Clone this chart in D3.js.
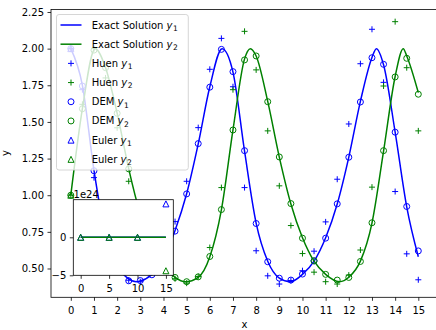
<!DOCTYPE html>
<html>
<head>
<meta charset="utf-8">
<script src="https://cdn.jsdelivr.net/npm/d3@7"></script>
<style>
  body { margin: 0; background: #fff; }
  text { font-family: "DejaVu Sans", sans-serif; font-size: 10px; fill: #000; }
</style>
</head>
<body>
<svg id="chart" width="436" height="330"></svg>
<script>
// exact solution (extra points at the peaks / troughs)
const exactT1 = [0, 0.5, 1, 1.5, 2, 2.5, 2.82, 3, 3.5, 4, 4.5, 5, 5.5, 6, 6.53, 7, 7.5, 8, 8.5, 9, 9.48, 10, 10.5, 11, 11.5, 12, 12.5, 13, 13.19, 13.5, 14, 14.5, 15];
const exactY1 = [2.0, 1.75, 1.17, 0.73, 0.52, 0.43, 0.41, 0.415, 0.46, 0.57, 0.76, 1.01, 1.35, 1.74, 2.0, 1.84, 1.30, 0.81, 0.55, 0.435, 0.41, 0.46, 0.55, 0.71, 0.94, 1.26, 1.64, 1.94, 2.0, 1.89, 1.43, 0.92, 0.58];
const exactT2 = [0, 0.5, 1.05, 1.5, 2, 2.5, 3, 3.5, 4, 4.5, 4.95, 5.5, 6, 6.5, 7, 7.5, 7.75, 8, 8.5, 9, 9.5, 10, 10.5, 11, 11.6, 12, 12.5, 13, 13.5, 14, 14.35, 14.5, 15];
const exactY2 = [1.0, 1.59, 2.0, 1.87, 1.56, 1.18, 0.87, 0.65, 0.52, 0.44, 0.41, 0.44, 0.58, 0.90, 1.445, 1.93, 2.0, 1.95, 1.64, 1.26, 0.94, 0.71, 0.55, 0.46, 0.41, 0.44, 0.55, 0.81, 1.30, 1.81, 2.0, 1.95, 1.70];

// step 0.5 methods
const stepT = d3.range(0, 15.01, 0.5);
const huenY1 = [2.0, 1.72, 1.12, 0.68, 0.49, 0.42, 0.41, 0.47, 0.6, 0.82, 1.095, 1.461, 1.859, 2.07, 1.74, 1.052, 0.621, 0.45, 0.394, 0.418, 0.485, 0.618, 0.818, 1.109, 1.486, 1.897, 2.132, 1.77, 1.025, 0.6, 0.423];
const huenY2 = [1.0, 1.62, 2.0, 1.8, 1.46, 1.095, 0.8, 0.6, 0.49, 0.43, 0.40, 0.445, 0.643, 1.052, 1.72, 2.118, 1.855, 1.439, 1.064, 0.793, 0.602, 0.475, 0.41, 0.394, 0.455, 0.626, 1.055, 1.745, 2.184, 1.87, 1.439];
const demY1 = [2.0, 1.745, 1.167, 0.72, 0.51, 0.416, 0.418, 0.457, 0.56, 0.755, 1.009, 1.352, 1.737, 1.995, 1.843, 1.304, 0.807, 0.546, 0.434, 0.421, 0.462, 0.552, 0.707, 0.941, 1.259, 1.636, 1.938, 1.893, 1.43, 0.923, 0.62];
const demY2 = [1.0, 1.59, 1.99, 1.87, 1.559, 1.18, 0.87, 0.65, 0.52, 0.439, 0.41, 0.443, 0.582, 0.902, 1.445, 1.923, 1.95, 1.638, 1.261, 0.943, 0.707, 0.552, 0.46, 0.421, 0.439, 0.548, 0.812, 1.304, 1.807, 1.934, 1.689];

// Euler with step 5 blows up
const eulerT = [0, 5, 10, 15];
const eulerY1 = [2.0, -3.0, 1.2e3, 4.4e24];
const eulerY2 = [1.0, 6.0, -9.6e2, -4.4e24];

const xTicks = d3.range(0, 16);
const yTicks = [0.5, 0.75, 1.0, 1.25, 1.5, 1.75, 2.0, 2.25];
const insetXTicks = [0, 5, 10, 15];
const insetYTicks = [-5e24, 0];

const legendLabels = [
  ['Exact Solution ', '1'], ['Exact Solution ', '2'],
  ['Huen ', '1'], ['Huen ', '2'],
  ['DEM ', '1'], ['DEM ', '2'],
  ['Euler ', '1'], ['Euler ', '2']
];

const BLUE = '#0000ff', GREEN = '#008000';

const svg = d3.select('#chart');

const x = d3.scaleLinear().domain([-0.855, 15.85]).range([51, 438]);
const y = d3.scaleLinear().domain([0.3035, 2.267]).range([297.3, 9.5]);

svg.append('clipPath').attr('id', 'clipMain')
  .append('rect').attr('x', 51).attr('y', 9.5).attr('width', 387).attr('height', 287.8);

// marker shapes
const shapes = {
  plus: 'M-3,0H3M0,-3V3',
  circle: 'M3,0A3,3 0 1,1 -3,0A3,3 0 1,1 3,0Z',
  tri: 'M0,-3L-3,3L3,3Z'
};

function drawMarkers(g, xs, ys, xsc, ysc, shape, color) {
  g.append('g').selectAll('path')
    .data(xs.map((t, i) => [t, ys[i]]))
    .join('path')
    .attr('transform', d => `translate(${xsc(d[0])},${ysc(d[1])})`)
    .attr('d', shapes[shape])
    .attr('fill', 'none')
    .attr('stroke', color)
    .attr('stroke-width', 1);
}

function drawLine(g, ts, vs, xsc, ysc, color) {
  const line = d3.line()
    .x(d => xsc(d[0]))
    .y(d => ysc(d[1]))
    .curve(d3.curveMonotoneX);
  g.append('path')
    .datum(ts.map((t, i) => [t, vs[i]]))
    .attr('d', line)
    .attr('fill', 'none')
    .attr('stroke', color)
    .attr('stroke-width', 1.5);
}

// main plot
const plot = svg.append('g').attr('clip-path', 'url(#clipMain)');
drawLine(plot, exactT1, exactY1, x, y, BLUE);
drawLine(plot, exactT2, exactY2, x, y, GREEN);
drawMarkers(plot, stepT, huenY1, x, y, 'plus', BLUE);
drawMarkers(plot, stepT, huenY2, x, y, 'plus', GREEN);
drawMarkers(plot, stepT, demY1, x, y, 'circle', BLUE);
drawMarkers(plot, stepT, demY2, x, y, 'circle', GREEN);
drawMarkers(plot, eulerT, eulerY1, x, y, 'tri', BLUE);
drawMarkers(plot, eulerT, eulerY2, x, y, 'tri', GREEN);

// axes
const xAxis = svg.append('g')
  .attr('transform', 'translate(0,297.3)')
  .call(d3.axisBottom(x).tickValues(xTicks).tickSize(3.5).tickSizeOuter(0).tickFormat(d3.format('d')));
xAxis.selectAll('text').attr('y', 16.6).attr('dy', 0);

const yAxis = svg.append('g')
  .attr('transform', 'translate(51,0)')
  .call(d3.axisLeft(y).tickValues(yTicks).tickSize(3.5).tickSizeOuter(0).tickPadding(3.5).tickFormat(d3.format('.2f')));

svg.selectAll('.domain').remove();
svg.selectAll('.tick line').attr('stroke', '#000').attr('stroke-width', 0.8);
svg.selectAll('.tick text').attr('font-size', 10).attr('font-family', 'DejaVu Sans').attr('fill', '#000');

svg.append('rect')
  .attr('x', 51).attr('y', 9.5).attr('width', 387).attr('height', 287.8)
  .attr('fill', 'none').attr('stroke', '#000').attr('stroke-width', 0.8);

svg.append('text').attr('x', 244.5).attr('y', 328).attr('text-anchor', 'middle').text('x');
svg.append('text').attr('transform', 'translate(9,153) rotate(-90)').attr('text-anchor', 'middle').text('y');

// legend
const legend = svg.append('g');
legend.append('rect')
  .attr('x', 56.5).attr('y', 14.5).attr('width', 131.8).attr('height', 155.5)
  .attr('rx', 2.5)
  .attr('fill', '#fff').attr('fill-opacity', 0.8)
  .attr('stroke', '#cccccc').attr('stroke-width', 0.8);

const handles = [
  ['line', BLUE], ['line', GREEN],
  ['plus', BLUE], ['plus', GREEN],
  ['circle', BLUE], ['circle', GREEN],
  ['tri', BLUE], ['tri', GREEN]
];
legendLabels.forEach((lab, i) => {
  const cy = 25 + i * 19.19;
  const [kind, color] = handles[i];
  if (kind === 'line') {
    legend.append('line').attr('x1', 60.5).attr('x2', 81.5).attr('y1', cy).attr('y2', cy)
      .attr('stroke', color).attr('stroke-width', 1.5);
  } else {
    legend.append('path').attr('transform', `translate(71,${cy})`).attr('d', shapes[kind])
      .attr('fill', 'none').attr('stroke', color).attr('stroke-width', 1);
  }
  const t = legend.append('text').attr('x', 91.7).attr('y', cy + 3.5).attr('font-size', 10.6);
  t.append('tspan').text(lab[0]);
  t.append('tspan').attr('font-style', 'italic').text('y');
  t.append('tspan').attr('font-size', 7.6).attr('dx', 0.6).attr('dy', 2.3).text(lab[1]);
});

// inset
const xi = d3.scaleLinear().domain([-1.3, 16.3]).range([73.3, 173.3]);
const yi = d3.scaleLinear().domain([-5e24, 4.95e24]).range([275.3, 199.7]);

svg.append('clipPath').attr('id', 'clipInset')
  .append('rect').attr('x', 73.3).attr('y', 199.7).attr('width', 100).attr('height', 75.6);

svg.append('rect').attr('x', 73.3).attr('y', 199.7).attr('width', 100).attr('height', 75.6)
  .attr('fill', '#fff');

const inset = svg.append('g').attr('clip-path', 'url(#clipInset)');
drawLine(inset, exactT1, exactY1, xi, yi, BLUE);
drawLine(inset, exactT2, exactY2, xi, yi, GREEN);
drawMarkers(inset, eulerT, eulerY1, xi, yi, 'tri', BLUE);
drawMarkers(inset, eulerT, eulerY2, xi, yi, 'tri', GREEN);

const ixAxis = svg.append('g').attr('class', 'inset-axis')
  .attr('transform', 'translate(0,275.3)')
  .call(d3.axisBottom(xi).tickValues(insetXTicks).tickSize(3.5).tickSizeOuter(0).tickFormat(d3.format('d')));
ixAxis.selectAll('text').attr('y', 16.4).attr('dy', 0);

const iyAxis = svg.append('g').attr('class', 'inset-axis')
  .attr('transform', 'translate(73.3,0)')
  .call(d3.axisLeft(yi).tickValues(insetYTicks).tickSize(3.5).tickSizeOuter(0).tickPadding(3.5)
    .tickFormat(d => d3.format('d')(d / 1e24)));

svg.selectAll('.inset-axis .domain').remove();
svg.selectAll('.inset-axis .tick line').attr('stroke', '#000').attr('stroke-width', 0.8);
svg.selectAll('.inset-axis .tick text').attr('font-size', 10).attr('font-family', 'DejaVu Sans').attr('fill', '#000');

svg.append('rect').attr('x', 73.3).attr('y', 199.7).attr('width', 100).attr('height', 75.6)
  .attr('fill', 'none').attr('stroke', '#000').attr('stroke-width', 0.8);

svg.append('text').attr('x', 73.6).attr('y', 197.8).text('1e24');
</script>
</body>
</html>
